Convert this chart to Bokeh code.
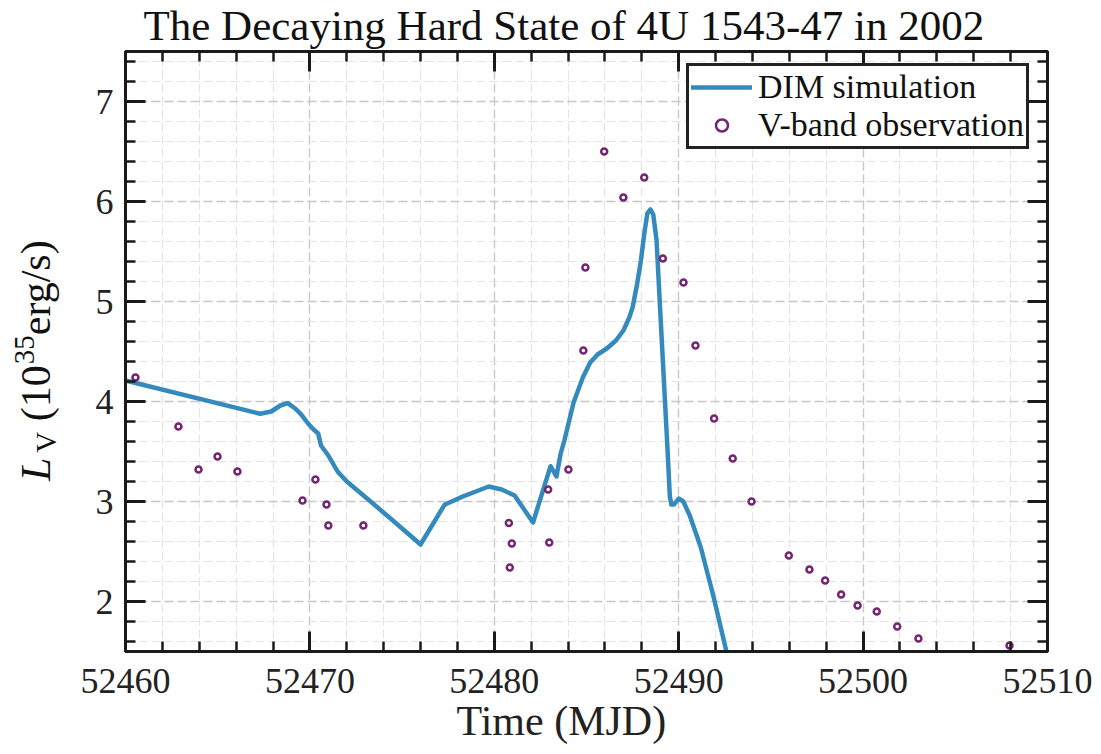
from bokeh.plotting import figure
from bokeh.models import (LinearAxis, SingleIntervalTicker, Range1d, Title,
                          Legend, LegendItem, Grid, Div)
from bokeh.layouts import row
from bokeh.embed import file_html
from bokeh.resources import INLINE

# ---------------- data ----------------
curve_t = [52459.8, 52460.0, 52467.3, 52467.9, 52468.4, 52468.8, 52469.2, 52469.5,
           52469.9, 52470.2, 52470.45, 52470.6, 52471.0, 52471.5, 52472.0, 52473.1,
           52474.5, 52476.0, 52477.3, 52478.2, 52479.0, 52479.7, 52480.4, 52481.1,
           52482.1, 52483.05, 52483.37, 52483.6, 52483.8, 52484.3, 52484.8, 52485.2,
           52485.6, 52486.1, 52486.6, 52487.0, 52487.3, 52487.5, 52487.75, 52487.95,
           52488.15, 52488.3, 52488.47, 52488.62, 52488.8, 52489.0, 52489.2, 52489.4,
           52489.52, 52489.6, 52489.75, 52490.0, 52490.25, 52490.6, 52491.2, 52491.9,
           52492.55, 52492.8]
curve_l = [4.215, 4.21, 3.877, 3.90, 3.96, 3.983, 3.93, 3.877,
           3.78, 3.72, 3.68, 3.56, 3.46, 3.30, 3.20, 3.03,
           2.81, 2.57, 2.967, 3.043, 3.10, 3.15, 3.12, 3.06,
           2.79, 3.353, 3.25, 3.48, 3.61, 3.99, 4.24, 4.39,
           4.47, 4.53, 4.61, 4.71, 4.83, 4.94, 5.18, 5.41,
           5.70, 5.88, 5.92, 5.87, 5.61, 4.90, 4.20, 3.50,
           3.05, 2.97, 2.97, 3.03, 3.00, 2.86, 2.54, 2.04,
           1.53, 1.35]

obs_t = [52460.54, 52462.87, 52463.96, 52464.99, 52466.07, 52469.60, 52470.30,
         52470.90, 52471.00, 52472.90, 52480.79, 52480.95, 52480.84, 52482.92,
         52482.98, 52484.02, 52484.83, 52484.94, 52485.96, 52487.00, 52488.13,
         52489.14, 52490.26, 52490.91, 52491.92, 52492.93, 52493.95, 52495.97,
         52497.09, 52497.94, 52498.81, 52499.70, 52500.74, 52501.85, 52503.00,
         52507.94]
obs_l = [4.24, 3.75, 3.32, 3.45, 3.30, 3.01, 3.22,
         2.97, 2.76, 2.76, 2.785, 2.58, 2.34, 3.12,
         2.59, 3.32, 4.51, 5.34, 6.50, 6.04, 6.24,
         5.43, 5.19, 4.56, 3.83, 3.43, 3.00, 2.46,
         2.32, 2.21, 2.07, 1.96, 1.90, 1.75, 1.63,
         1.56]

x_limits = (52460, 52510)
y_limits = (1.5, 7.5)

TITLE = "The Decaying Hard State of 4U 1543-47 in 2002"
XLABEL = "Time (MJD)"
SERIES = ["DIM simulation", "V-band observation"]

LINE_COLOR = "#348ABD"
PT_COLOR = "#742570"
INK = "#1a1a1a"
SERIF = "Liberation Serif"

YLAB_W = 66

# ---------------- figure ----------------
p = figure(frame_width=922, frame_height=600,
           x_range=Range1d(*x_limits), y_range=Range1d(*y_limits),
           output_backend="svg", toolbar_location=None,
           x_axis_location=None, y_axis_location=None,
           min_border_left=125 - YLAB_W, min_border_right=54,
           min_border_top=51, min_border_bottom=103,
           background_fill_color="white", border_fill_color="white")
p.xgrid.visible = False
p.ygrid.visible = False
p.outline_line_color = INK
p.outline_line_width = 3

p.title.text = TITLE
p.title.text_font = SERIF
p.title.text_font_size = "43px"
p.title.text_font_style = "normal"
p.title.text_color = "#111111"
p.title.align = "left"
p.title.offset = 18
p.title.standoff = 1
p.title.vertical_align = "top"


def make_axis(kind, show_labels):
    ticker = SingleIntervalTicker(interval=10 if kind == "x" else 1, num_minor_ticks=5)
    ax = LinearAxis(ticker=ticker)
    ax.axis_line_color = INK
    ax.axis_line_width = 3
    ax.major_tick_line_color = INK
    ax.major_tick_line_width = 3
    ax.minor_tick_line_color = INK
    ax.minor_tick_line_width = 2.5
    ax.major_tick_in = 20
    ax.major_tick_out = 0
    ax.minor_tick_in = 10
    ax.minor_tick_out = 0
    if show_labels:
        ax.major_label_text_font = SERIF
        ax.major_label_text_font_size = "36px"
        ax.major_label_text_color = "#222222"
        ax.major_label_standoff = 12 if kind == "y" else 17
    else:
        ax.major_label_text_font_size = "0px"
        ax.major_label_text_color = None
        ax.major_label_standoff = 0
    return ax, ticker


xb, xt = make_axis("x", True)
yl, yt = make_axis("y", True)
xa, _ = make_axis("x", False)
yr, _ = make_axis("y", False)
p.add_layout(xb, "below")
p.add_layout(yl, "left")
p.add_layout(xa, "above")
p.add_layout(yr, "right")

p.add_layout(Title(text=XLABEL, text_font=SERIF, text_font_size="42px",
                   text_font_style="normal", text_color="#222222",
                   align="left", offset=331, standoff=0), "below")

for dim, tk in ((0, xt), (1, yt)):
    g = Grid(dimension=dim, ticker=tk)
    g.grid_line_color = "#c8c8c8"
    g.grid_line_width = 1.3
    g.grid_line_dash = "9 4"
    g.minor_grid_line_color = "#e4e4e4"
    g.minor_grid_line_width = 1.2
    g.minor_grid_line_dash = "9 4"
    g.level = "underlay"
    p.add_layout(g)

line_r = p.line(curve_t, curve_l, line_color=LINE_COLOR, line_width=4.5,
                line_join="round", line_cap="round")
pts_r = p.scatter(obs_t, obs_l, marker="circle", size=6, fill_color="white",
                  line_color=PT_COLOR, line_width=2.5)

legend = Legend(items=[LegendItem(label=SERIES[0], renderers=[line_r]),
                       LegendItem(label=SERIES[1], renderers=[pts_r])],
                location=(561, 502))
legend.label_text_font = SERIF
legend.label_text_font_size = "34px"
legend.label_text_color = "#111111"
legend.border_line_color = "#222222"
legend.border_line_alpha = 1.0
legend.border_line_width = 3
legend.background_fill_color = "white"
legend.background_fill_alpha = 1
legend.padding = 2
legend.spacing = 0
legend.margin = 0
legend.glyph_width = 61
legend.glyph_height = 30
legend.label_height = 30
legend.label_standoff = 6
p.add_layout(legend)

# ---------------- rotated y-axis label (HTML text) ----------------
ylab_html = (
    f'<div style="position:relative;width:{YLAB_W}px;height:754px;">'
    '<div style="position:absolute;left:15px;top:481px;transform:rotate(-90deg);'
    "transform-origin:0 0;white-space:nowrap;font-family:'Liberation Serif',serif;"
    'font-size:42px;line-height:42px;color:#111111;">'
    '<i>L</i><span style="font-size:29px;position:relative;top:6px;padding-left:5px;">V</span>'
    '&nbsp;(10<span style="font-size:29px;position:relative;top:-16px;padding-left:1px;">35</span>'
    'erg/s)</div></div>'
)
ylab = Div(text=ylab_html, width=YLAB_W, height=754, margin=0)

layout = row(ylab, p, spacing=0)
open("out.html", "w").write(file_html(layout, INLINE))
